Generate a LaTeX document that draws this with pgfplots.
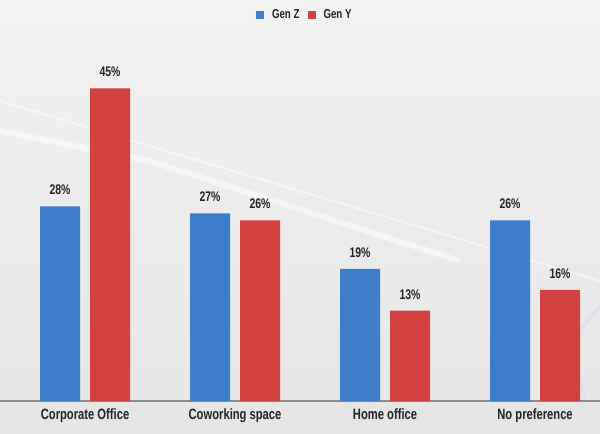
\documentclass[border=0pt]{standalone}
\usepackage{fontspec}
\setmainfont{Liberation Sans}[FakeStretch=0.75]
\usepackage{pgfplots}
\pgfplotsset{compat=1.18}
\definecolor{genz}{RGB}{61,125,202}
\definecolor{geny}{RGB}{211,64,64}
\definecolor{txt}{RGB}{35,35,35}
\begin{document}
\begin{tikzpicture}
\useasboundingbox (0,-33bp) rectangle (600bp,401bp);
\shade[top color=black!5, bottom color=black!10] (0,-33bp) rectangle (600bp,401bp);
\draw[white,line width=6bp,opacity=0.5] (0,270bp) -- (150bp,240bp) -- (460bp,140bp);
\draw[white,line width=2bp,opacity=0.5] (0,300bp) -- (600bp,120bp);
\draw[blue!15,line width=3bp,opacity=0.6] (600bp,95bp) .. controls (570bp,60bp) .. (585bp,0bp);
\begin{axis}[
  scale only axis, width=600bp, height=371bp,
  at={(0,0)}, anchor=south west,
  xmin=-0.567, xmax=3.433, ymin=0, ymax=53.4,
  ybar=10bp, bar width=40bp,
  axis y line=none, axis x line=bottom,
  x axis line style={-, draw=black!45, line width=1.3bp},
  xtick={0,1,2,3},
  xticklabels={Corporate Office, Coworking space, Home office, No preference},
  major tick length=0,
  /pgf/number format/assume math mode=true,
  xticklabel style={font=\fontsize{15}{17}\selectfont\bfseries, text=txt, yshift=-4bp},
  nodes near coords={\pgfmathprintnumber{\pgfplotspointmeta}\%},
  every node near coord/.append style={font=\fontsize{14}{16}\selectfont\bfseries, text=txt, yshift=8bp},
  legend style={at={(0.508,1.04)}, anchor=center, draw=none, fill=none,
    font=\fontsize{13}{15}\selectfont\bfseries, text=txt, column sep=6bp},
  legend columns=2,
  legend image code/.code={\fill[#1] (0bp,-4bp) rectangle (8bp,4bp);},
]
\addplot[draw=none, fill=genz] coordinates {(0,28) (1,27) (2,19) (3,26)};
\addplot[draw=none, fill=geny] coordinates {(0,45) (1,26) (2,13) (3,16)};
\legend{Gen Z, Gen Y}
\end{axis}
\end{tikzpicture}
\end{document}
